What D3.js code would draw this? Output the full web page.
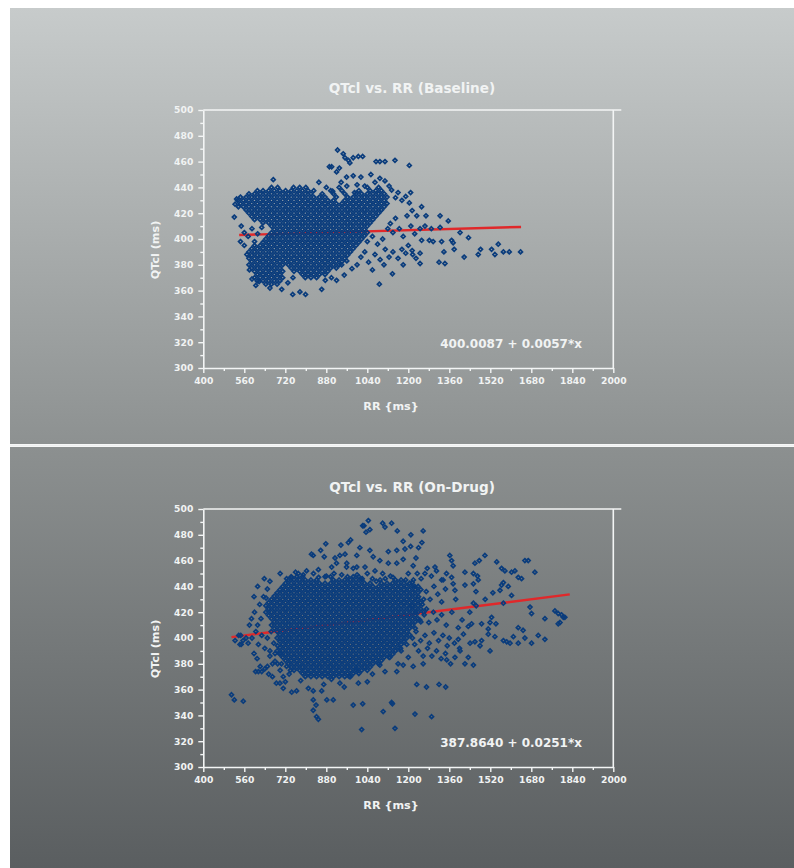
<!DOCTYPE html>
<html>
<head>
<meta charset="utf-8">
<script src="https://cdn.jsdelivr.net/npm/d3@7"></script>
<style>
  body { margin: 0; background: #fff; }
  svg { display: block; }
  text { font-family: "DejaVu Sans", Verdana, sans-serif; font-weight: bold; fill: #f1f3f3; }
</style>
</head>
<body>
<svg id="chart" width="794" height="868"></svg>
<script>
// axis ticks
const rrTicks = [400, 480, 560, 640, 720, 800, 880, 960, 1040, 1120, 1200, 1280, 1360, 1440, 1520, 1600, 1680, 1760, 1840, 1920, 2000];
const rrLabels = [400, 560, 720, 880, 1040, 1200, 1360, 1520, 1680, 1840, 2000];
const qtTicks = [300, 310, 320, 330, 340, 350, 360, 370, 380, 390, 400, 410, 420, 430, 440, 450, 460, 470, 480, 490, 500];
const qtLabels = [300, 320, 340, 360, 380, 400, 420, 440, 460, 480, 500];

const titles = ["QTcl vs. RR (Baseline)", "QTcl vs. RR (On-Drug)"];
const equations = ["400.0087 + 0.0057*x", "387.8640 + 0.0251*x"];
const baselineFit = [400.0087, 0.0057];
const baselineFitRR = [540, 1640];
const onDrugFit = [387.8640, 0.0251];
const onDrugFitRR = [510, 1830];

// overplotted core of each cloud, read as rows: [QTc, [RR, RR, ...]]
const baselineDense = [
  [440, [666, 690, 752, 776, 800, 930, 1040, 1084]],
  [437.5, [611, 633, 655, 677, 699, 721, 743, 765, 787, 809, 831, 897, 941, 1007, 1051, 1073, 1095]],
  [435, [578, 600, 622, 644, 666, 688, 710, 732, 754, 776, 798, 820, 864, 908, 952, 996, 1018, 1040, 1062, 1084, 1106]],
  [432.5, [545, 567, 589, 611, 633, 655, 677, 699, 721, 743, 765, 787, 809, 831, 853, 875, 919, 963, 985, 1007, 1029, 1051, 1073, 1095, 1117]],
  [430, [534, 556, 578, 600, 622, 644, 666, 688, 710, 732, 754, 776, 798, 820, 842, 864, 886, 908, 952, 974, 996, 1018, 1040, 1062, 1084, 1106]],
  [427.5, [545, 567, 589, 611, 633, 655, 677, 699, 721, 743, 765, 787, 809, 831, 853, 875, 897, 919, 941, 963, 985, 1007, 1029, 1051, 1073, 1095, 1117]],
  [425, [556, 578, 600, 622, 644, 666, 688, 710, 732, 754, 776, 798, 820, 842, 864, 886, 908, 930, 952, 974, 996, 1018, 1040, 1062, 1084, 1106]],
  [422.5, [567, 589, 611, 633, 655, 677, 699, 721, 743, 765, 787, 809, 831, 853, 875, 897, 919, 941, 963, 985, 1007, 1029, 1051, 1073, 1095]],
  [420, [578, 600, 622, 644, 666, 688, 710, 732, 754, 776, 798, 820, 842, 864, 886, 908, 930, 952, 974, 996, 1018, 1040, 1062, 1084]],
  [417.5, [589, 611, 633, 655, 677, 699, 721, 743, 765, 787, 809, 831, 853, 875, 897, 919, 941, 963, 985, 1007, 1029, 1051, 1073]],
  [415, [600, 622, 644, 666, 688, 710, 732, 754, 776, 798, 820, 842, 864, 886, 908, 930, 952, 974, 996, 1018, 1040, 1062]],
  [412.5, [633, 655, 677, 699, 721, 743, 765, 787, 809, 831, 853, 875, 897, 919, 941, 963, 985, 1007, 1029, 1051]],
  [410, [666, 688, 710, 732, 754, 776, 798, 820, 842, 864, 886, 908, 930, 952, 974, 996, 1018, 1040]],
  [407.5, [677, 699, 721, 743, 765, 787, 809, 831, 853, 875, 897, 919, 941, 963, 985, 1007, 1029]],
  [405, [666, 688, 710, 732, 754, 776, 798, 820, 842, 864, 886, 908, 930, 952, 974, 996, 1018, 1040]],
  [402.5, [655, 677, 699, 721, 743, 765, 787, 809, 831, 853, 875, 897, 919, 941, 963, 985, 1007, 1029]],
  [400, [644, 666, 688, 710, 732, 754, 776, 798, 820, 842, 864, 886, 908, 930, 952, 974, 996, 1018]],
  [397.5, [633, 655, 677, 699, 721, 743, 765, 787, 809, 831, 853, 875, 897, 919, 941, 963, 985, 1007]],
  [395, [600, 622, 644, 666, 688, 710, 732, 754, 776, 798, 820, 842, 864, 886, 908, 930, 952, 974, 996]],
  [392.5, [589, 611, 633, 655, 677, 699, 721, 743, 765, 787, 809, 831, 853, 875, 897, 919, 941, 963, 985]],
  [390, [578, 600, 622, 644, 666, 688, 710, 732, 754, 776, 798, 820, 842, 864, 886, 908, 930, 952, 974]],
  [387.5, [589, 611, 633, 655, 677, 699, 721, 743, 765, 787, 809, 831, 853, 875, 897, 919, 941, 963]],
  [385, [578, 600, 622, 644, 666, 688, 710, 732, 754, 776, 798, 820, 842, 864, 886, 908, 930, 952]],
  [382.5, [589, 611, 633, 655, 677, 699, 721, 743, 765, 787, 809, 831, 853, 875, 897, 919, 941]],
  [380, [578, 600, 622, 644, 666, 688, 710, 732, 754, 776, 798, 820, 842, 864, 886, 908, 930]],
  [377.5, [589, 611, 633, 655, 677, 699, 743, 765, 787, 809, 831, 853, 875, 897, 919]],
  [375, [600, 622, 644, 666, 688, 710, 754, 776, 798, 820, 842, 864, 886]],
  [372.5, [611, 633, 655, 677, 699, 787, 809, 831, 853, 875]],
  [370, [600, 622, 644, 666, 688, 710, 798, 820, 842]],
  [367.5, [611, 633, 655, 677, 699]],
  [365, [644, 666, 688]]
];

// scattered points around the baseline cloud: [RR, QTc]
const baselineSparse = [
  [924, 469], [946, 466], [953, 463], [966, 461], [985, 463], [1005, 464], [1022, 464], [972, 459], [892, 456], [901, 456],
  [931, 455], [1074, 460], [1089, 460], [1109, 460], [1148, 461], [1204, 457], [920, 452], [959, 448], [985, 449], [1015, 448],
  [1054, 450], [1089, 447], [1109, 445], [851, 444], [673, 446], [938, 444], [960, 441], [1000, 442], [1030, 441], [1070, 444],
  [1125, 441], [880, 440], [905, 437], [990, 436], [1135, 438], [1150, 432], [1160, 436], [1175, 430], [1190, 433],
  [524, 427], [521, 417], [537, 425], [530, 431], [548, 410], [560, 405], [575, 402], [590, 408], [600, 398], [612, 404],
  [628, 409], [545, 398], [560, 395], [570, 388], [580, 376], [590, 369], [605, 364], [618, 367], [660, 362], [706, 361],
  [749, 357], [777, 359], [799, 357], [730, 366], [750, 370], [862, 361], [876, 368], [900, 370], [920, 368], [950, 372],
  [980, 377], [1000, 380], [1015, 386], [1030, 390], [960, 383], [940, 380],
  [1040, 398], [1060, 402], [1080, 396], [1100, 400], [1110, 392], [1120, 408], [1130, 412], [1140, 405], [1150, 416], [1165, 408],
  [1180, 402], [1070, 388], [1090, 384], [1105, 380], [1125, 386], [1140, 390], [1160, 385], [1175, 392], [1190, 389], [1200, 395],
  [1215, 391], [1230, 385], [1180, 380], [1138, 373], [1087, 365], [1060, 376], [1045, 382],
  [1209, 436], [1204, 428], [1252, 425], [1233, 418], [1269, 418], [1324, 418], [1356, 414], [1402, 405], [1435, 401], [1324, 409],
  [1246, 408], [1282, 399], [1252, 399], [1297, 398], [1330, 398], [1369, 399], [1375, 397], [1339, 390], [1379, 392], [1418, 386],
  [1473, 388], [1482, 392], [1525, 392], [1538, 388], [1551, 396], [1571, 390], [1594, 390], [1638, 390], [1320, 382], [1343, 381],
  [1246, 381], [1246, 389], [1217, 388], [1265, 410], [1290, 408], [1210, 410], [1225, 404], [1195, 418], [1215, 422]
];

const onDrugDense = [
  [447.5, [743, 765, 787, 875, 897, 963, 985, 1007]],
  [445, [732, 754, 776, 798, 820, 842, 908, 930, 952, 974, 996, 1018, 1150, 1172]],
  [442.5, [721, 743, 765, 787, 809, 831, 853, 875, 897, 919, 941, 963, 985, 1007, 1029, 1051, 1095, 1117, 1139, 1161, 1183, 1205]],
  [440, [710, 732, 754, 776, 798, 820, 842, 864, 886, 908, 930, 952, 974, 996, 1018, 1040, 1062, 1084, 1106, 1128, 1150, 1172, 1194, 1216, 1238]],
  [437.5, [699, 721, 743, 765, 787, 809, 831, 853, 875, 897, 919, 941, 963, 985, 1007, 1029, 1051, 1073, 1095, 1117, 1139, 1161, 1183, 1205, 1227, 1249]],
  [435, [688, 710, 732, 754, 776, 798, 820, 842, 864, 886, 908, 930, 952, 974, 996, 1018, 1040, 1062, 1084, 1106, 1128, 1150, 1172, 1194, 1216, 1238]],
  [432.5, [677, 699, 721, 743, 765, 787, 809, 831, 853, 875, 897, 919, 941, 963, 985, 1007, 1029, 1051, 1073, 1095, 1117, 1139, 1161, 1183, 1205, 1227]],
  [430, [666, 688, 710, 732, 754, 776, 798, 820, 842, 864, 886, 908, 930, 952, 974, 996, 1018, 1040, 1062, 1084, 1106, 1128, 1150, 1172, 1194, 1216, 1238, 1260]],
  [427.5, [655, 677, 699, 721, 743, 765, 787, 809, 831, 853, 875, 897, 919, 941, 963, 985, 1007, 1029, 1051, 1073, 1095, 1117, 1139, 1161, 1183, 1205, 1227, 1249]],
  [425, [644, 666, 688, 710, 732, 754, 776, 798, 820, 842, 864, 886, 908, 930, 952, 974, 996, 1018, 1040, 1062, 1084, 1106, 1128, 1150, 1172, 1194, 1216, 1238]],
  [422.5, [655, 677, 699, 721, 743, 765, 787, 809, 831, 853, 875, 897, 919, 941, 963, 985, 1007, 1029, 1051, 1073, 1095, 1117, 1139, 1161, 1183, 1205, 1227, 1249, 1271]],
  [420, [644, 666, 688, 710, 732, 754, 776, 798, 820, 842, 864, 886, 908, 930, 952, 974, 996, 1018, 1040, 1062, 1084, 1106, 1128, 1150, 1172, 1194, 1216, 1238, 1260]],
  [417.5, [655, 677, 699, 721, 743, 765, 787, 809, 831, 853, 875, 897, 919, 941, 963, 985, 1007, 1029, 1051, 1073, 1095, 1117, 1139, 1161, 1183, 1205, 1227]],
  [415, [666, 688, 710, 732, 754, 776, 798, 820, 842, 864, 886, 908, 930, 952, 974, 996, 1018, 1040, 1062, 1084, 1106, 1128, 1150, 1172, 1194, 1216, 1238]],
  [412.5, [677, 699, 721, 743, 765, 787, 809, 831, 853, 875, 897, 919, 941, 963, 985, 1007, 1029, 1051, 1073, 1095, 1117, 1139, 1161, 1183, 1205, 1227, 1249]],
  [410, [666, 688, 710, 732, 754, 776, 798, 820, 842, 864, 886, 908, 930, 952, 974, 996, 1018, 1040, 1062, 1084, 1106, 1128, 1150, 1172, 1194, 1216]],
  [407.5, [677, 699, 721, 743, 765, 787, 809, 831, 853, 875, 897, 919, 941, 963, 985, 1007, 1029, 1051, 1073, 1095, 1117, 1139, 1161, 1183, 1205, 1227]],
  [405, [688, 710, 732, 754, 776, 798, 820, 842, 864, 886, 908, 930, 952, 974, 996, 1018, 1040, 1062, 1084, 1106, 1128, 1150, 1172, 1194]],
  [402.5, [699, 721, 743, 765, 787, 809, 831, 853, 875, 897, 919, 941, 963, 985, 1007, 1029, 1051, 1073, 1095, 1117, 1139, 1161, 1183, 1205]],
  [400, [688, 710, 732, 754, 776, 798, 820, 842, 864, 886, 908, 930, 952, 974, 996, 1018, 1040, 1062, 1084, 1106, 1128, 1150, 1172, 1194, 1216]],
  [397.5, [699, 721, 743, 765, 787, 809, 831, 853, 875, 897, 919, 941, 963, 985, 1007, 1029, 1051, 1073, 1095, 1117, 1139, 1161, 1183]],
  [395, [710, 732, 754, 776, 798, 820, 842, 864, 886, 908, 930, 952, 974, 996, 1018, 1040, 1062, 1084, 1106, 1128, 1150, 1172, 1194]],
  [392.5, [699, 721, 743, 765, 787, 809, 831, 853, 875, 897, 919, 941, 963, 985, 1007, 1029, 1051, 1073, 1095, 1117, 1139, 1161]],
  [390, [688, 710, 732, 754, 776, 798, 820, 842, 864, 886, 908, 930, 952, 974, 996, 1018, 1040, 1062, 1084, 1106, 1128, 1150, 1172]],
  [387.5, [699, 721, 743, 765, 787, 809, 831, 853, 875, 897, 919, 941, 963, 985, 1007, 1029, 1051, 1073, 1095, 1117, 1139]],
  [385, [710, 732, 754, 776, 798, 820, 842, 864, 886, 908, 930, 952, 974, 996, 1018, 1040, 1062, 1084, 1106, 1128]],
  [382.5, [721, 743, 765, 787, 809, 831, 853, 875, 897, 919, 941, 963, 985, 1007, 1029, 1051, 1073, 1095]],
  [380, [732, 754, 776, 798, 820, 842, 864, 886, 908, 930, 952, 974, 996, 1018, 1040, 1062, 1084]],
  [377.5, [743, 765, 787, 809, 831, 853, 875, 897, 919, 941, 963, 985, 1007, 1029, 1051]],
  [375, [754, 776, 798, 820, 842, 864, 886, 908, 930, 952, 974, 996, 1018, 1040]],
  [372.5, [787, 809, 831, 853, 875, 897, 919, 941, 963, 985, 1007]],
  [370, [798, 820, 842, 864, 886, 908, 930, 952, 974]]
];

const onDrugSparse = [
  [600, 420], [612, 410], [620, 426], [628, 402], [640, 392], [615, 395], [605, 405], [625, 415], [635, 432], [650, 438],
  [660, 444], [610, 384], [622, 378], [604, 374], [615, 374], [628, 374], [640, 376], [655, 372], [670, 380], [660, 390],
  [675, 396], [650, 400], [665, 405], [680, 388], [690, 380], [700, 375], [712, 370], [685, 365], [720, 366], [598, 388],
  [590, 400], [580, 410], [575, 396], [567, 400], [555, 398], [548, 395], [538, 402], [524, 398], [543, 395], [546, 402],
  [510, 356], [521, 352], [556, 351], [638, 446], [645, 431], [588, 415], [598, 432], [612, 440],
  [660, 386], [680, 382], [700, 388], [690, 394], [705, 380], [725, 378], [740, 375], [735, 372], [670, 370], [650, 378],
  [1005, 365], [1022, 349], [985, 348], [1018, 329], [1148, 330], [1102, 343], [1135, 350], [1138, 349], [1226, 341], [1291, 339],
  [1233, 364], [1271, 362], [1320, 364], [1346, 362], [1258, 380], [1219, 378], [1180, 379], [1200, 385], [1155, 374], [1109, 374],
  [1089, 379], [999, 376], [970, 370], [933, 365], [907, 352], [882, 352], [829, 352], [840, 348], [829, 344], [842, 339],
  [849, 337], [810, 361], [829, 359], [862, 359], [764, 359], [745, 358], [712, 361], [780, 367], [699, 365], [950, 362],
  [900, 368], [870, 364], [1060, 372], [1040, 366], [1125, 385], [1170, 392], [1160, 380],
  [1225, 440], [1240, 432], [1255, 426], [1270, 436], [1285, 430], [1300, 440], [1315, 434], [1330, 428], [1345, 438], [1228, 420],
  [1245, 414], [1262, 418], [1280, 412], [1298, 420], [1312, 414], [1330, 418], [1348, 410], [1230, 405], [1248, 398], [1265, 402],
  [1282, 396], [1300, 404], [1318, 398], [1335, 402], [1352, 394], [1240, 390], [1258, 386], [1275, 392], [1292, 386], [1310, 390],
  [1328, 384], [1345, 388], [1365, 380], [1225, 395], [1215, 425], [1220, 445], [1235, 450], [1250, 446], [1290, 448], [1330, 445],
  [1370, 420], [1385, 430], [1395, 408], [1360, 400], [1380, 396], [1400, 392], [1410, 414],
  [1310, 452], [1304, 455], [1362, 464], [1369, 460], [1375, 456], [1349, 450], [1369, 447], [1375, 442], [1336, 445], [1421, 451],
  [1460, 458], [1477, 460], [1499, 464], [1454, 450], [1470, 448], [1473, 445], [1454, 442], [1464, 436], [1421, 441], [1382, 437],
  [1545, 459], [1564, 454], [1577, 452], [1571, 443], [1564, 441], [1558, 437], [1603, 451], [1616, 452], [1642, 446], [1629, 447],
  [1655, 460], [1668, 460], [1694, 451], [1603, 433], [1571, 427], [1454, 427], [1525, 416], [1675, 424], [1681, 419], [1733, 415],
  [1772, 421], [1785, 419], [1798, 418], [1792, 412], [1805, 416], [1811, 416], [1785, 411], [1519, 412], [1542, 411], [1512, 403],
  [1538, 401], [1571, 398], [1584, 397], [1597, 396], [1610, 401], [1629, 396], [1655, 400], [1681, 396], [1707, 402], [1733, 399],
  [1629, 408], [1648, 406], [1519, 390], [1486, 398], [1480, 394], [1460, 397], [1441, 396], [1454, 379], [1421, 380], [1434, 385],
  [1402, 390], [1382, 385], [1350, 383], [1395, 399], [1415, 403], [1434, 409], [1447, 411], [1486, 411], [1512, 407], [1440, 420],
  [1465, 425], [1500, 430], [1530, 435], [1590, 440],
  [1022, 487], [1027, 487], [1044, 491], [1050, 484], [1035, 482], [1100, 489], [1135, 489], [1109, 486], [1157, 483], [1210, 480],
  [1258, 483], [1253, 474], [1209, 471], [1187, 469], [1155, 468], [1122, 467], [1050, 468], [1011, 470], [966, 474], [975, 476],
  [937, 472], [878, 473], [858, 468], [829, 464], [822, 465], [872, 463], [914, 462], [933, 464], [953, 465], [999, 464],
  [1063, 463], [1089, 460], [1155, 458], [1180, 461], [1219, 456], [1122, 458], [999, 455], [1031, 455], [959, 455], [985, 454],
  [901, 455], [849, 453], [803, 452], [771, 450], [745, 447], [725, 446], [1265, 450], [1274, 454], [1040, 450], [1070, 452],
  [1100, 450], [1130, 448], [1200, 450], [1020, 446], [1060, 446], [1090, 445], [880, 448], [910, 450], [830, 450], [700, 450],
  [1230, 462], [1240, 470], [1180, 475], [960, 458], [920, 458],
  [760, 451], [790, 449], [850, 447], [940, 449], [1000, 449], [1110, 446], [1140, 447], [1190, 445], [1215, 443], [1075, 444]
];

const svg = d3.select("#chart");
const defs = svg.append("defs");

function gradient(id, c0, c1) {
  const lg = defs.append("linearGradient").attr("id", id)
    .attr("x1", 0).attr("y1", 0).attr("x2", 0).attr("y2", 1);
  lg.append("stop").attr("offset", "0%").attr("stop-color", c0);
  lg.append("stop").attr("offset", "100%").attr("stop-color", c1);
}
gradient("bgTop", "#c7cbcb", "#8d9191");
gradient("bgBottom", "#8c9090", "#5a5e60");

svg.append("rect").attr("x", 10).attr("y", 8).attr("width", 784).attr("height", 436).attr("fill", "url(#bgTop)");
svg.append("rect").attr("x", 10).attr("y", 447).attr("width", 784).attr("height", 421).attr("fill", "url(#bgBottom)");
svg.append("rect").attr("x", 10).attr("y", 444.5).attr("width", 784).attr("height", 2).attr("fill", "#eef0f0");

const diamond = "M0,-1.95L1.95,0L0,1.95L-1.95,0Z";

function drawChart(top, title, equation, dense, sparse, fit, fitRR) {
  const x = d3.scaleLinear().domain([400, 2000]).range([203.3, 613.3]);
  const y = d3.scaleLinear().domain([300, 500]).range([top + 258, top]);
  const g = svg.append("g");

  // fit line under the points
  const line = d3.line().x(d => x(d[0])).y(d => y(d[1]));
  g.append("path")
    .datum(fitRR.map(rr => [rr, fit[0] + fit[1] * rr]))
    .attr("d", line)
    .attr("fill", "none")
    .attr("stroke", "#e0282a")
    .attr("stroke-width", 2.4);

  const pts = [];
  dense.forEach(row => row[1].forEach(rr => pts.push([rr, row[0]])));
  sparse.forEach(p => pts.push(p));

  g.append("g").selectAll("path")
    .data(pts)
    .join("path")
    .attr("d", diamond)
    .attr("transform", d => `translate(${x(d[0])},${y(d[1])})`)
    .attr("fill", "none")
    .attr("stroke", "#0a3c7c")
    .attr("stroke-width", 1.7);

  // axes
  const xAxis = g.append("g")
    .attr("transform", `translate(0,${y(300)})`)
    .call(d3.axisBottom(x).tickValues(rrTicks).tickSize(5).tickSizeOuter(0)
      .tickFormat(d => rrLabels.includes(d) ? d : ""));
  xAxis.selectAll(".tick line").attr("y2", d => rrLabels.includes(d) ? 5 : 3);
  xAxis.selectAll(".tick text").attr("y", 9);

  const yAxis = g.append("g")
    .attr("transform", `translate(${x(400)},0)`)
    .call(d3.axisLeft(y).tickValues(qtTicks).tickSize(5).tickSizeOuter(0)
      .tickFormat(d => qtLabels.includes(d) ? d : ""));
  yAxis.selectAll(".tick line").attr("x2", d => qtLabels.includes(d) ? -5 : -3);
  yAxis.selectAll(".tick text").attr("x", -10);

  [xAxis, yAxis].forEach(a => {
    a.select(".domain").attr("stroke", "#f3f5f5").attr("stroke-width", 1.6);
    a.selectAll(".tick line").attr("stroke", "#f3f5f5").attr("stroke-width", 1.4);
    a.selectAll(".tick text").attr("fill", "#eef0f0")
      .style("font-family", "'DejaVu Sans', Verdana, sans-serif")
      .style("font-weight", "bold").style("font-size", "9.2px");
  });

  g.append("line").attr("x1", x(400)).attr("x2", x(2000) + 8)
    .attr("y1", y(500)).attr("y2", y(500))
    .attr("stroke", "#f3f5f5").attr("stroke-width", 1.6);
  g.append("line").attr("x1", x(2000)).attr("x2", x(2000))
    .attr("y1", y(500)).attr("y2", y(300))
    .attr("stroke", "#f3f5f5").attr("stroke-width", 1.6);

  g.append("text").attr("x", 412).attr("y", top - 17)
    .attr("text-anchor", "middle").style("font-size", "13.6px").text(title);
  g.append("text").attr("transform", `translate(159,${top + 140}) rotate(-90)`)
    .attr("text-anchor", "middle").style("font-size", "11.2px").text("QTcl (ms)");
  g.append("text").attr("x", 391).attr("y", top + 300)
    .attr("text-anchor", "middle").style("font-size", "11.2px").text("RR {ms}");
  g.append("text").attr("x", 582).attr("y", top + 238)
    .attr("text-anchor", "end").style("font-size", "12px").text(equation);
}

drawChart(110, titles[0], equations[0], baselineDense, baselineSparse, baselineFit, baselineFitRR);
drawChart(509, titles[1], equations[1], onDrugDense, onDrugSparse, onDrugFit, onDrugFitRR);
</script>
</body>
</html>
